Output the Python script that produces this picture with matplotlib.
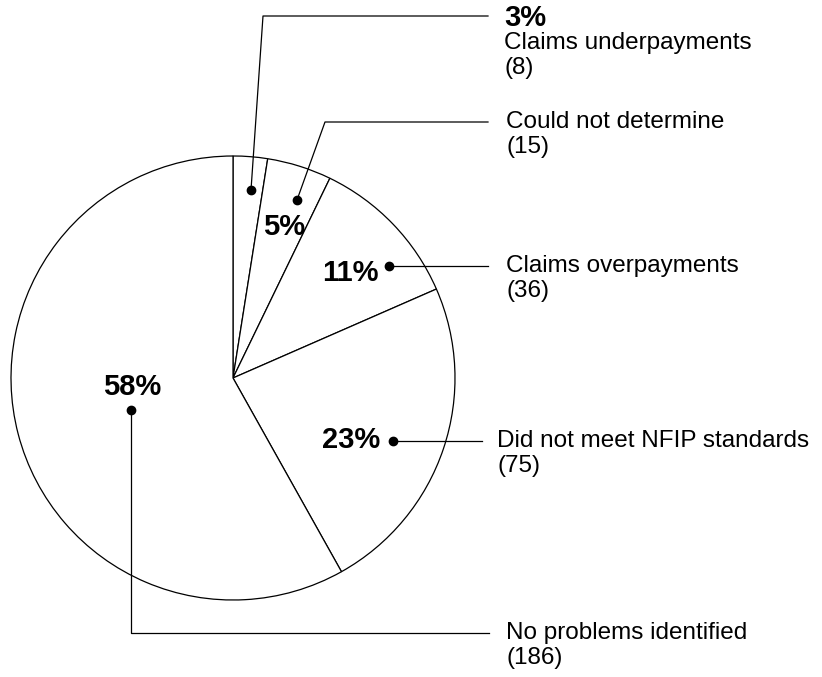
import matplotlib
matplotlib.use("Agg")
import matplotlib.pyplot as plt

# claim counts, clockwise from the top
labels = ["Claims underpayments", "Could not determine", "Claims overpayments",
          "Did not meet NFIP standards", "No problems identified"]
counts = [8, 15, 36, 75, 186]
pct_labels = ["3%", "5%", "11%", "23%", "58%"]

plt.rcParams['font.family'] = ['Liberation Sans', 'DejaVu Sans']

W, H = 822, 677
fig = plt.figure(figsize=(W / 100, H / 100), dpi=100)
ax = fig.add_axes([0, 0, 1, 1])

cx, cy, r = 233, 378, 222
ax.pie(counts, center=(cx, cy), radius=r, startangle=-90, counterclock=True,
       wedgeprops=dict(facecolor='white', edgecolor='black', linewidth=0.9))
ax.set_xlim(0, W)
ax.set_ylim(H, 0)
ax.set_aspect('equal')
ax.axis('off')

lw = 0.9
ms = 6
reg = 17.5
bold = 21

# leader paths (dot -> ... -> label)
paths = [
    [(251, 190), (263, 16), (488, 16)],
    [(297, 200), (325, 122), (488, 122)],
    [(389, 266), (488, 266)],
    [(393, 441), (482, 441)],
    [(131, 410), (131, 633), (489, 633)],
]
for p in paths:
    xs = [q[0] for q in p]
    ys = [q[1] for q in p]
    ax.plot(xs, ys, color='black', lw=lw)
    ax.plot(xs[0], ys[0], 'o', color='black', ms=ms)

# percent labels
ax.text(504, 18, pct_labels[0], fontsize=bold, fontweight='bold', va='center', ha='left')
ax.text(284, 227, pct_labels[1], fontsize=bold, fontweight='bold', va='center', ha='center')
ax.text(350, 273, pct_labels[2], fontsize=bold, fontweight='bold', va='center', ha='center')
ax.text(351, 440, pct_labels[3], fontsize=bold, fontweight='bold', va='center', ha='center')
ax.text(132, 387, pct_labels[4], fontsize=bold, fontweight='bold', va='center', ha='center')

# category labels
text_pos = [(504, 43), (506, 122), (506, 266), (497, 441), (506, 633)]
for (tx, ty), lab, n in zip(text_pos, labels, counts):
    ax.text(tx, ty, lab, fontsize=reg, va='center', ha='left')
    ax.text(tx, ty + 25, "(%d)" % n, fontsize=reg, va='center', ha='left')

fig.savefig("out.png", dpi=100)
